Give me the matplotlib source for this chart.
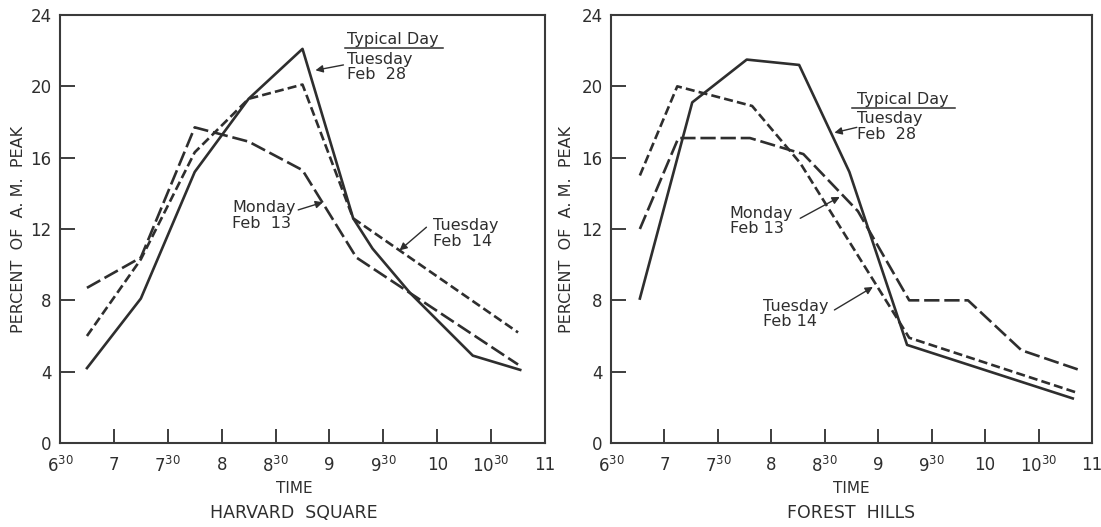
import matplotlib
matplotlib.use("Agg")
import matplotlib.pyplot as plt

plt.rcParams['font.family'] = ['DejaVu Sans']
plt.rcParams['mathtext.fontset'] = 'dejavusans'
plt.rcParams['lines.scale_dashes'] = False

INK = '#2e2e2e'

# time axis (hours), labels with superscript minutes
time_ticks = [6.5, 7, 7.5, 8, 8.5, 9, 9.5, 10, 10.5, 11]
time_labels = ['$6^{30}$', '7', '$7^{30}$', '8', '$8^{30}$', '9', '$9^{30}$', '10', '$10^{30}$', '11']
pct_ticks = [0, 4, 8, 12, 16, 20, 24]

# Harvard Square (percent of A.M. peak)
hs_typical_t = [6.75, 7.25, 7.75, 8.25, 8.75, 9.22, 9.4, 9.75, 10.33, 10.77]
hs_typical = [4.2, 8.1, 15.2, 19.3, 22.1, 12.6, 10.9, 8.4, 4.9, 4.1]
hs_monday_t = [6.75, 7.25, 7.75, 8.25, 8.75, 9.25, 10.75]
hs_monday = [8.7, 10.4, 17.7, 16.9, 15.3, 10.4, 4.4]
hs_tuesday_t = [6.75, 7.25, 7.75, 8.25, 8.75, 9.22, 10.75]
hs_tuesday = [6.0, 10.3, 16.3, 19.3, 20.1, 12.6, 6.2]

# Forest Hills
fh_typical_t = [6.77, 7.26, 7.77, 8.26, 8.73, 9.27, 10.82]
fh_typical = [8.1, 19.1, 21.5, 21.2, 15.2, 5.5, 2.5]
fh_monday_t = [6.77, 7.13, 7.8, 8.3, 8.81, 9.29, 9.84, 10.34, 10.88]
fh_monday = [12.0, 17.1, 17.1, 16.2, 13.0, 8.0, 8.0, 5.2, 4.1]
fh_tuesday_t = [6.77, 7.12, 7.82, 8.27, 9.29, 10.87]
fh_tuesday = [15.0, 20.0, 18.9, 15.7, 5.9, 2.8]

LONG = (0, (11, 3.5))
SHORT = (0, (6.5, 3))


def style_axes(ax, station, ylabel_x, xc):
    ax.set_xlim(6.5, 11)
    ax.set_ylim(0, 24)
    ax.set_xticks(time_ticks)
    ax.set_xticklabels(time_labels)
    ax.set_yticks(pct_ticks)
    ax.tick_params(axis='x', direction='in', length=10, width=1.3, pad=9,
                   labelsize=12, colors=INK)
    ax.tick_params(axis='y', direction='in', length=11, width=1.3, pad=6,
                   labelsize=12, colors=INK)
    for s in ax.spines.values():
        s.set_linewidth(1.5)
        s.set_color('#3a3a3a')
    ax.set_ylabel('PERCENT  OF  A. M.  PEAK', fontsize=11.5, color=INK)
    ax.yaxis.set_label_coords(ylabel_x, 0.5)
    ax.set_xlabel('TIME', fontsize=11, color=INK)
    ax.xaxis.set_label_coords(xc, -0.088)
    ax.xaxis.label.set_va('top')
    ax.text(xc, -0.163, station, transform=ax.transAxes, ha='center',
            va='center', fontsize=12.5, color=INK)


def label(ax, x, y, txt, ax_x, ax_y, tip_x, tip_y):
    ax.text(x, y, txt, fontsize=11.5, color=INK, ha='left', va='top',
            linespacing=1.05)
    ax.annotate('', xy=(tip_x, tip_y), xytext=(ax_x, ax_y),
                arrowprops=dict(arrowstyle='-|>', color=INK, lw=1.0,
                                mutation_scale=11, shrinkA=0, shrinkB=0))


def typical(ax, x, y, x1, x2, uy, ax_x, ax_y, tip_x, tip_y):
    ax.text(x, y, 'Typical Day', fontsize=11.5, color=INK, ha='left', va='baseline')
    ax.plot([x1, x2], [uy, uy], color=INK, lw=1.1)
    label(ax, x, uy - 0.2, 'Tuesday\nFeb  28', ax_x, ax_y, tip_x, tip_y)


fig = plt.figure(figsize=(11.01, 5.27), dpi=100)
ax1 = fig.add_axes([60 / 1101, 84 / 527, 485 / 1101, 428 / 527])
ax2 = fig.add_axes([611 / 1101, 84 / 527, 481 / 1101, 428 / 527])

# Harvard Square
ax1.plot(hs_typical_t, hs_typical, color=INK, lw=1.9)
ax1.plot(hs_monday_t, hs_monday, color=INK, lw=1.9, linestyle=LONG)
ax1.plot(hs_tuesday_t, hs_tuesday, color=INK, lw=1.9, linestyle=SHORT)
style_axes(ax1, 'HARVARD  SQUARE', -0.07, 0.483)
typical(ax1, 9.16, 22.35, 9.14, 10.05, 22.15, 9.13, 21.2, 8.87, 20.9)
label(ax1, 8.1, 13.6, 'Monday\nFeb  13', 8.71, 13.07, 8.94, 13.5)
label(ax1, 9.96, 12.6, 'Tuesday\nFeb  14', 9.9, 12.1, 9.65, 10.8)

# Forest Hills
ax2.plot(fh_typical_t, fh_typical, color=INK, lw=1.9)
ax2.plot(fh_monday_t, fh_monday, color=INK, lw=1.9, linestyle=LONG)
ax2.plot(fh_tuesday_t, fh_tuesday, color=INK, lw=1.9, linestyle=SHORT)
style_axes(ax2, 'FOREST  HILLS', -0.077, 0.5)
typical(ax2, 8.80, 19.0, 8.75, 9.72, 18.8, 8.80, 17.7, 8.59, 17.4)
label(ax2, 7.61, 13.3, 'Monday\nFeb 13', 8.27, 12.6, 8.64, 13.8)
label(ax2, 7.92, 8.1, 'Tuesday\nFeb 14', 8.59, 7.46, 8.95, 8.75)

fig.savefig('out.png', dpi=100, facecolor='white')
